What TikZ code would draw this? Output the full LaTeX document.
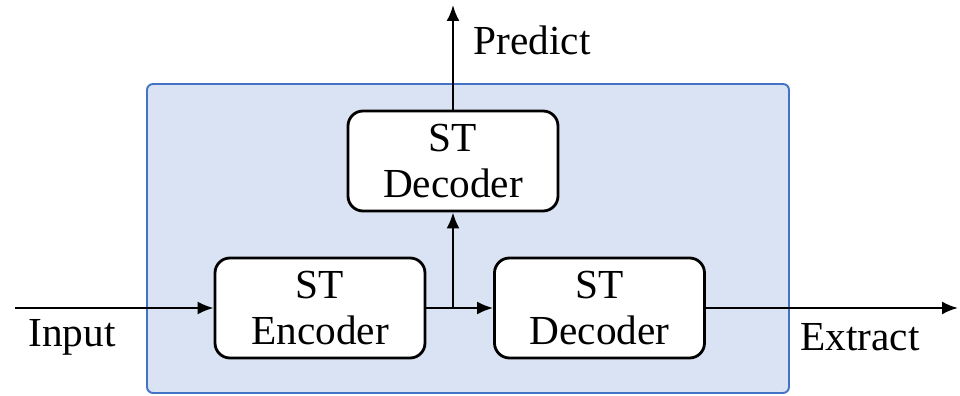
\documentclass[tikz,border=0pt]{standalone}
\usepackage{fontspec}
\setmainfont{Liberation Serif}
\usepackage{xcolor}
\usepackage{tikz}
\usetikzlibrary{arrows.meta,positioning,calc}

\definecolor{panelfill}{RGB}{218,227,243}
\definecolor{panelline}{RGB}{68,114,196}

\tikzset{
  stblock/.style={draw=black, line width=1.6pt, fill=white, rounded corners=0.3cm,
    minimum width=4.2cm, minimum height=2cm, align=center,
    font=\fontsize{23.5}{26}\selectfont},
  flow/.style={line width=1.3pt, -{Latex[length=3.2mm,width=2.6mm]}},
  lbl/.style={font=\fontsize{23.5}{27}\selectfont}
}

\begin{document}
\begin{tikzpicture}
  \useasboundingbox (0,0) rectangle (19.2,7.92);

  % Model panel
  \draw[line width=1.1pt, draw=panelline, fill=panelfill, rounded corners=0.12cm]
    (2.94,0.06) rectangle (15.78,6.24);

  % Blocks
  \node[stblock] (enc) at (6.4,1.76) {ST\\Encoder};
  \node[stblock] (dec) at (11.99,1.76) {ST\\Decoder};
  \node[stblock] (pdec) at (9.06,4.70) {ST\\Decoder};

  % Ends of the outer arrows
  \coordinate (in) at (0.3,1.76);
  \coordinate (out) at (19.16,1.76);
  \coordinate (top) at (9.06,7.82);
  \coordinate (split) at (pdec.south |- enc.east);

  % Connections
  \draw[flow] (in) -- (enc);
  \draw[line width=1.3pt] (enc.east) -- (split);
  \draw[flow] (split) -- (dec);
  \draw[flow] (split) -- (pdec);
  \draw[flow] (dec) -- (out);
  \draw[flow] (pdec) -- (top);

  % Labels
  \node[lbl] (input) at (1.44,1.18) {Input};
  \node[lbl] (extract) at (17.2,1.18) {Extract};
  \node[lbl] (predict) at (10.64,7.12) {Predict};
\end{tikzpicture}
\end{document}
